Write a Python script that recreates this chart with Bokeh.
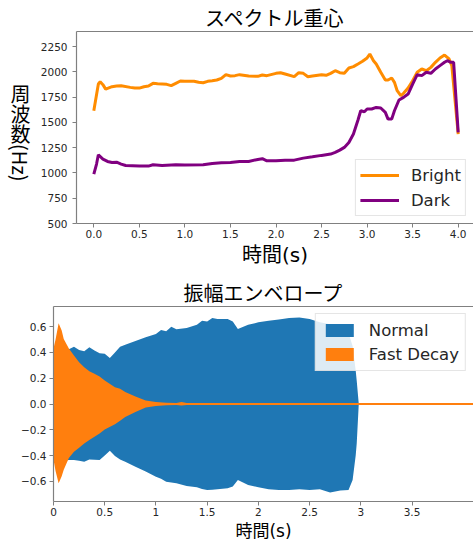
import math
from bokeh.plotting import figure
from bokeh.layouts import column, row
from bokeh.models import Range1d, FixedTicker, LinearAxis, Div, Title
from bokeh.embed import file_html
from bokeh.resources import INLINE

# ---------------- data: spectral centroid ----------------
bright_t = [0.0, 0.05, 0.07, 0.1, 0.13, 0.2, 0.25, 0.3, 0.4, 0.45, 0.5, 0.55, 0.6, 0.65, 0.7,
            0.8, 0.85, 0.9, 0.95, 1.0, 1.1, 1.15, 1.2, 1.25, 1.3, 1.35, 1.4, 1.45, 1.5, 1.55,
            1.6, 1.7, 1.8, 1.85, 1.9, 2.0, 2.05, 2.1, 2.2, 2.25, 2.3, 2.35, 2.4, 2.5, 2.55,
            2.6, 2.65, 2.7, 2.75, 2.8, 2.85, 2.9, 2.95, 3.0, 3.03, 3.07, 3.1, 3.15, 3.2, 3.23,
            3.27, 3.3, 3.33, 3.37, 3.4, 3.45, 3.5, 3.55, 3.6, 3.65, 3.7, 3.75, 3.8, 3.85,
            3.9, 3.93, 4.0]
bright_hz = [1616, 1880, 1903, 1874, 1830, 1854, 1860, 1864, 1847, 1840, 1840, 1853, 1860, 1887, 1883,
             1877, 1864, 1887, 1910, 1907, 1907, 1897, 1893, 1907, 1913, 1920, 1936, 1973, 1960, 1963,
             1973, 1960, 1956, 1970, 1963, 1986, 1992, 1979, 1953, 1992, 1986, 1953, 1960, 1973, 1966,
             1986, 2012, 1992, 1986, 2039, 2052, 2078, 2105, 2138, 2177, 2111, 2078, 1996, 1920, 1920,
             1940, 1897, 1814, 1765, 1788, 1840, 1913, 1996, 2029, 2012, 2045, 2095, 2138, 2167,
             2128, 2062, 1385]

dark_t = [0.0, 0.03, 0.05, 0.1, 0.15, 0.2, 0.25, 0.3, 0.35, 0.5, 0.6, 0.65, 0.75, 0.9, 1.0,
          1.2, 1.3, 1.4, 1.5, 1.6, 1.7, 1.8, 1.85, 1.9, 2.0, 2.1, 2.2, 2.3, 2.4, 2.5,
          2.6, 2.65, 2.7, 2.75, 2.8, 2.85, 2.9, 2.93, 2.97, 3.0, 3.05, 3.1, 3.15, 3.2, 3.23,
          3.27, 3.3, 3.35, 3.4, 3.45, 3.5, 3.55, 3.6, 3.65, 3.7, 3.75, 3.8, 3.85, 3.88,
          3.92, 3.95, 4.0]
dark_hz = [989, 1088, 1180, 1137, 1114, 1104, 1107, 1088, 1074, 1068, 1068, 1081, 1074, 1081, 1078,
           1081, 1094, 1101, 1104, 1114, 1114, 1134, 1141, 1120, 1120, 1127, 1127, 1147, 1160, 1174,
           1187, 1203, 1226, 1253, 1302, 1385, 1524, 1616, 1606, 1633, 1633, 1649, 1643, 1600, 1533,
           1533, 1616, 1722, 1748, 1781, 1880, 1973, 1963, 1996, 1986, 2029, 2062, 2095, 2111,
           2095, 2095, 1401]

top_x_ticks = [0.0, 0.5, 1.0, 1.5, 2.0, 2.5, 3.0, 3.5, 4.0]
top_x_labels = ["0.0", "0.5", "1.0", "1.5", "2.0", "2.5", "3.0", "3.5", "4.0"]
top_y_ticks = [500, 750, 1000, 1250, 1500, 1750, 2000, 2250]

# ---------------- data: amplitude envelope ----------------
normal_t = [0.0, 0.05, 0.1, 0.15, 0.2, 0.25, 0.3, 0.35, 0.4, 0.45, 0.5, 0.55, 0.6, 0.65, 0.7,
            0.8, 0.9, 1.0, 1.05, 1.1, 1.15, 1.2, 1.3, 1.4, 1.45, 1.5, 1.55, 1.6, 1.7, 1.75,
            1.8, 1.9, 2.0, 2.1, 2.2, 2.3, 2.4, 2.5, 2.6, 2.7, 2.8, 2.88, 2.92, 2.95, 2.96, 2.98]
normal_up = [0.42, 0.42, 0.445, 0.425, 0.445, 0.42, 0.41, 0.44, 0.415, 0.394, 0.39, 0.358, 0.40, 0.445, 0.46,
             0.49, 0.518, 0.543, 0.574, 0.564, 0.60, 0.58, 0.59, 0.615, 0.646, 0.64, 0.667, 0.66, 0.66, 0.64,
             0.582, 0.615, 0.634, 0.646, 0.657, 0.667, 0.672, 0.66, 0.634, 0.62, 0.60, 0.55, 0.45, 0.26, 0.18, 0.0]
normal_lo = [-0.448, -0.44, -0.44, -0.435, -0.435, -0.44, -0.448, -0.43, -0.432, -0.435, -0.40, -0.363, -0.404, -0.43, -0.448,
             -0.487, -0.525, -0.564, -0.58, -0.603, -0.61, -0.615, -0.636, -0.646, -0.66, -0.667, -0.665, -0.662, -0.654, -0.64,
             -0.59, -0.628, -0.646, -0.662, -0.667, -0.667, -0.662, -0.667, -0.662, -0.688, -0.672, -0.667, -0.59, -0.40, -0.306, 0.0]

fast_t = [0.0, 0.02, 0.05, 0.08, 0.1, 0.15, 0.2, 0.25, 0.3, 0.35, 0.4, 0.45, 0.5, 0.6, 0.65,
          0.7, 0.8, 0.9, 1.0, 1.1, 1.2, 1.25, 1.3, 1.5, 4.1]
fast_up = [0.43, 0.5, 0.626, 0.57, 0.505, 0.43, 0.376, 0.325, 0.286, 0.255, 0.234, 0.214, 0.183, 0.131, 0.118,
           0.093, 0.059, 0.028, 0.015, 0.01, 0.008, 0.015, 0.007, 0.007, 0.007]
fast_lo = [-0.43, -0.52, -0.615, -0.56, -0.51, -0.42, -0.37, -0.34, -0.306, -0.28, -0.255, -0.23, -0.198, -0.157, -0.13,
           -0.10, -0.062, -0.028, -0.015, -0.01, -0.008, -0.012, -0.007, -0.007, -0.007]

bot_x_ticks = [0.0, 0.5, 1.0, 1.5, 2.0, 2.5, 3.0, 3.5]
bot_x_labels = ["0", "0.5", "1", "1.5", "2", "2.5", "3", "3.5"]
bot_y_ticks = [-0.6, -0.4, -0.2, 0.0, 0.2, 0.4, 0.6]
bot_y_labels = ["\u22120.6", "\u22120.4", "\u22120.2", "0.0", "0.2", "0.4", "0.6"]

CJK = "Noto Sans CJK JP"
LAT = "DejaVu Sans"
MIX = "DejaVu Sans, Noto Sans CJK JP"
SPINE = "#808080"
TXT = "#262626"


def style_axes(p, xt, xl, yt, yl=None, ystand=3):
    xa = p.below[0]
    ya = p.left[0]
    for ax in (xa, ya):
        ax.axis_line_color = SPINE
        ax.axis_line_width = 1.2
        ax.major_tick_line_color = SPINE
        ax.major_tick_out = 4
        ax.major_tick_in = 0
        ax.minor_tick_line_color = None
        ax.major_label_text_font = LAT
        ax.major_label_text_font_size = "10.5px"
        ax.major_label_text_color = TXT
        ax.major_label_standoff = 2
    xa.ticker = FixedTicker(ticks=xt)
    xa.major_label_overrides = {t: l for t, l in zip(xt, xl)}
    ya.ticker = FixedTicker(ticks=yt)
    ya.major_label_standoff = ystand
    if yl is not None:
        ya.major_label_overrides = {t: l for t, l in zip(yt, yl)}
    top = LinearAxis(axis_line_color=SPINE, axis_line_width=1.2, ticker=FixedTicker(ticks=[]),
                     major_tick_line_color=None, minor_tick_line_color=None)
    p.add_layout(top, "above")
    p.outline_line_color = None
    p.xgrid.grid_line_color = None
    p.ygrid.grid_line_color = None
    return xa, ya


def style_title(p, text):
    p.title.text = text
    p.title.text_font = CJK
    p.title.text_font_size = "20px"
    p.title.text_font_style = "normal"
    p.title.text_color = "black"
    p.title.align = "center"
    p.title.standoff = 0
    p.title.offset = 0


def add_xlabel(p, text, size):
    p.add_layout(Title(text=text, align="center", text_font=MIX, text_font_size=size,
                       text_font_style="normal", text_color="black", standoff=0, offset=0),
                 "below")


def style_legend(lg, loc, pad, spacing, gw, gh, lh, stand):
    lg.location = loc
    lg.margin = 7
    lg.padding = pad
    lg.spacing = spacing
    lg.glyph_width = gw
    lg.glyph_height = gh
    lg.label_height = lh
    lg.label_standoff = stand
    lg.label_text_font = LAT
    lg.label_text_font_size = "16.5px"
    lg.label_text_color = TXT
    lg.border_line_color = "#cccccc"
    lg.background_fill_alpha = 0.85


# ---------------- figure 1 ----------------
p1 = figure(width=443, height=270, output_backend="svg", toolbar_location=None,
            x_range=Range1d(-0.19, 4.168), y_range=Range1d(500, 2400),
            min_border_left=46, min_border_right=0, min_border_top=31, min_border_bottom=47)
style_title(p1, "スペクトル重心")

p1.line(bright_t, bright_hz, line_color="#FF8C00", line_width=3, legend_label="Bright")
p1.line(dark_t, dark_hz, line_color="#800080", line_width=3, legend_label="Dark")

xa1, ya1 = style_axes(p1, top_x_ticks, top_x_labels, top_y_ticks, ystand=5)
add_xlabel(p1, "時間(s)", "20px")

style_legend(p1.legend[0], "bottom_right", 4, 3, 39, 22, 22, 12)

ylab = Div(text="周波数(Hz)", width=30, height=270, margin=(0, 0, 0, 0),
           styles={"writing-mode": "vertical-rl", "font-family": CJK, "font-size": "20px",
                   "line-height": "30px", "padding-top": "84px", "color": "black",
                   "position": "relative", "left": "5px"})

# ---------------- figure 2 ----------------
p2 = figure(width=473, height=270, output_backend="svg", toolbar_location=None,
            x_range=Range1d(0, 4.1), y_range=Range1d(-0.757, 0.757),
            min_border_left=53, min_border_right=0, min_border_top=36, min_border_bottom=38)
style_title(p2, "振幅エンベロープ")

p2.varea(x=normal_t, y1=normal_lo, y2=normal_up, fill_color="#1f77b4", legend_label="Normal")
p2.varea(x=fast_t, y1=fast_lo, y2=fast_up, fill_color="#ff7f0e", legend_label="Fast Decay")

xa2, ya2 = style_axes(p2, bot_x_ticks, bot_x_labels, bot_y_ticks, bot_y_labels, ystand=3)
add_xlabel(p2, "時間(s)", "17px")

style_legend(p2.legend[0], "top_right", 6, 4, 35, 16, 20, 12)

layout = column(row(ylab, p1, spacing=0), p2, spacing=0)
open("out.html", "w").write(file_html(layout, INLINE))
